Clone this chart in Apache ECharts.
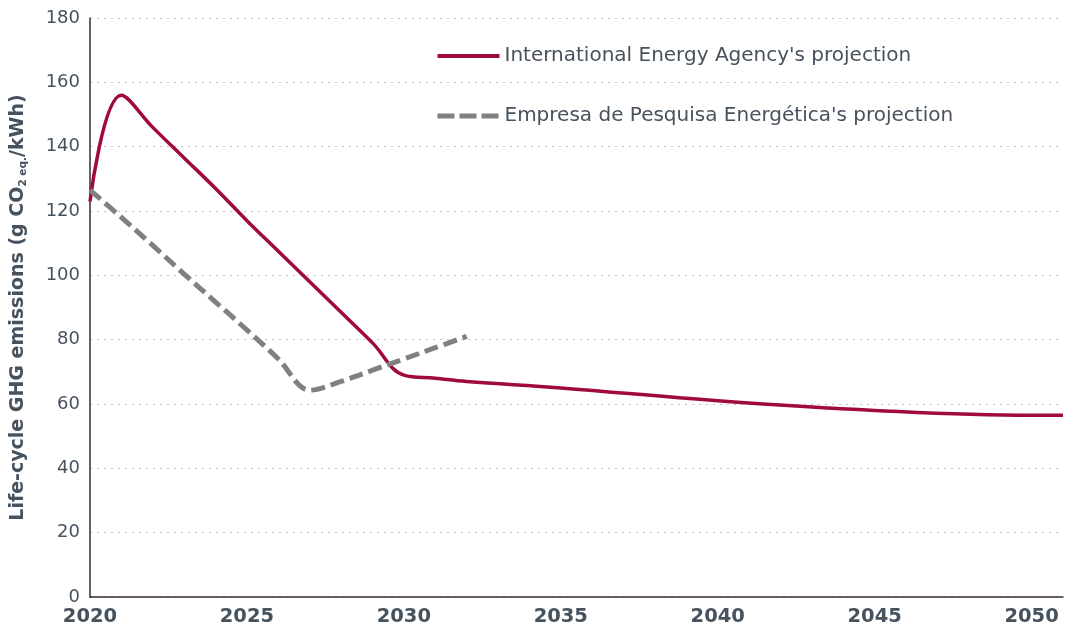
<!DOCTYPE html>
<html>
<head>
<meta charset="utf-8">
<script src="https://cdn.jsdelivr.net/npm/echarts@6/dist/echarts.min.js"></script>
<style>
  html, body { margin: 0; padding: 0; background: #fff; }
  #chart { width: 1065px; height: 635px; }
</style>
</head>
<body>
<div id="chart"></div>
<script>
// values
const ieaYears = [2020, 2021, 2022, 2023, 2024, 2025, 2026, 2027, 2028, 2029, 2030, 2031, 2032, 2035, 2040, 2045, 2050, 2051];
const ieaValues = [123, 156, 146, 136.5, 127, 117, 107.5, 98, 88.5, 79, 69, 68, 67, 65, 61, 58, 56.5, 56.5];
const epeYears = [2020, 2021, 2022, 2023, 2024, 2025, 2026, 2027, 2028, 2029, 2030, 2031, 2032];
const epeValues = [126.5, 118, 109.3, 100.4, 91.7, 83, 74, 64.3, 67, 70.5, 74, 77.5, 81];
const yTicks = [0, 20, 40, 60, 80, 100, 120, 140, 160, 180];

const seriesNames = ["International Energy Agency's projection", "Empresa de Pesquisa Energética's projection"];
const font = "DejaVu Sans";
const textColor = "#46525e";
const red = "#a00a3c";
const grey = "#808080";

const chart = echarts.init(document.getElementById("chart"));

const option = {
  animation: false,
  grid: { left: 90, right: 2, top: 18, bottom: 38, outerBoundsMode: "none" },
  legend: {
    orient: "vertical",
    left: 435,
    top: 45,
    padding: 0,
    itemWidth: 62,
    itemHeight: 14,
    itemGap: 38,
    itemStyle: { opacity: 0 },
    textStyle: { fontFamily: font, fontSize: 20, lineHeight: 22, color: textColor },
    data: [
      { name: seriesNames[0], lineStyle: { color: red, width: 4, type: "solid" } },
      { name: seriesNames[1], lineStyle: { color: grey, width: 5, type: [17, 5] } }
    ],
    selectedMode: false
  },
  xAxis: {
    type: "value",
    min: 2020,
    max: 2051,
    interval: 5,
    axisLine: { show: true, lineStyle: { color: "#3b2b26", width: 1.5 } },
    axisTick: { show: false },
    splitLine: { show: false },
    axisLabel: {
      fontFamily: font,
      fontWeight: "bold",
      fontSize: 19.5,
      color: textColor,
      margin: 10,
      showMaxLabel: false,
      formatter: (v) => String(v)
    }
  },
  yAxis: {
    type: "value",
    min: 0,
    max: 180,
    interval: 20,
    name: "Life-cycle GHG emissions (g CO{sub|2 eq.}/kWh)",
    nameLocation: "middle",
    nameGap: 61,
    nameRotate: 90,
    nameTextStyle: {
      fontFamily: font,
      fontWeight: "bold",
      fontSize: 19,
      color: textColor,
      rich: {
        sub: { fontFamily: font, fontWeight: "bold", fontSize: 10.5, color: textColor, verticalAlign: "bottom", padding: [10, 0, 0, 0] }
      }
    },
    axisLine: { show: true, lineStyle: { color: "#3b2b26", width: 1.5 } },
    axisTick: { show: false },
    splitLine: { show: true, lineStyle: { color: "#bdbdbd", type: [2, 5], width: 1.2 } },
    axisLabel: {
      fontFamily: font,
      fontSize: 18,
      color: textColor,
      margin: 10,
      customValues: yTicks
    }
  },
  series: [
    {
      name: seriesNames[0],
      type: "line",
      smooth: 0.4,
      showSymbol: false,
      symbol: "none",
      lineStyle: { color: red, width: 3.5 },
      itemStyle: { color: red },
      data: ieaYears.map((y, i) => [y, ieaValues[i]])
    },
    {
      name: seriesNames[1],
      type: "line",
      smooth: 0.35,
      showSymbol: false,
      symbol: "none",
      lineStyle: { color: grey, width: 5, type: [14, 6] },
      itemStyle: { color: grey },
      data: epeYears.map((y, i) => [y, epeValues[i]])
    }
  ]
};

chart.setOption(option);
</script>
</body>
</html>
